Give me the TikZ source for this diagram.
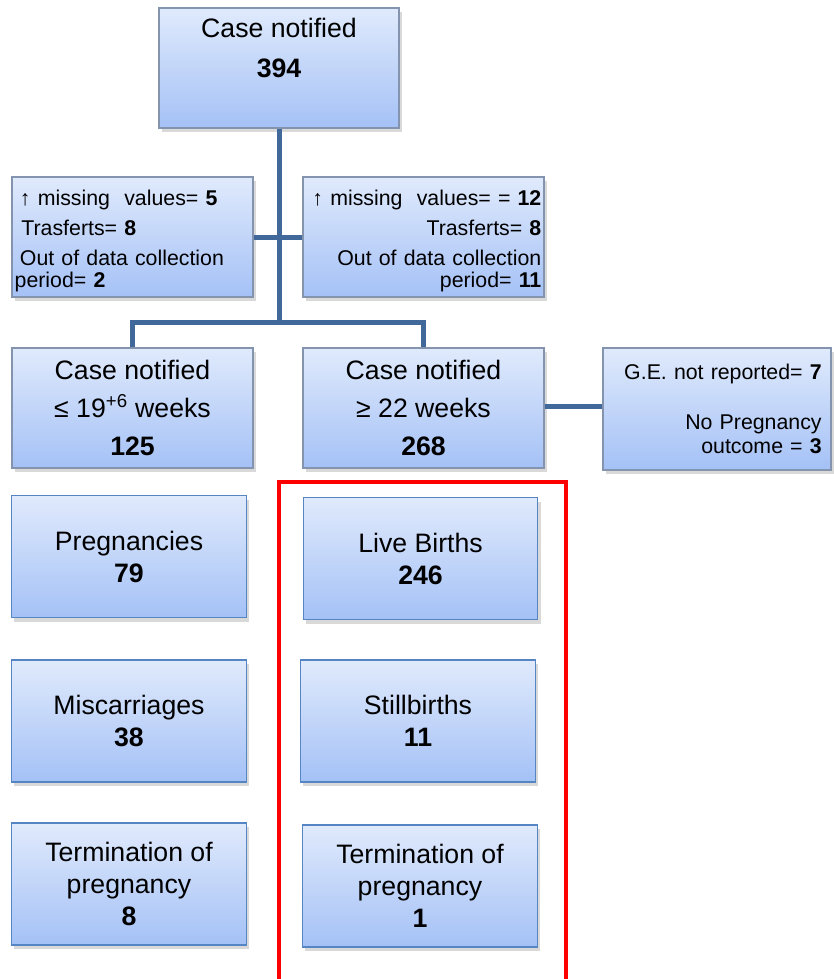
\documentclass[tikz,border=0pt]{standalone}
\usepackage{fontspec}
\setmainfont{Liberation Sans}
\usetikzlibrary{shadows}

\definecolor{boxtop}{HTML}{E0EAFC}
\definecolor{boxbot}{HTML}{A4C1F6}
\definecolor{greyedge}{HTML}{8494AE}
\definecolor{blueedge}{HTML}{5585C2}
\definecolor{linkblue}{HTML}{41689A}

\begin{document}
\begin{tikzpicture}[
  x=0.75pt, y=-0.75pt,
  box/.style={draw=greyedge, line width=0.8pt, top color=boxtop, bottom color=boxbot,
              drop shadow={shadow xshift=2pt, shadow yshift=-3pt, opacity=0.3},
              align=center, inner sep=2pt, minimum width=180.75pt, minimum height=90pt},
  bigtxt/.style={font=\fontsize{20}{24}\selectfont},
  smalltxt/.style={font=\fontsize{16}{16}\selectfont, text width=176.75pt},
  lowbox/.style={box, bigtxt, draw=blueedge, minimum width=176pt, minimum height=91.5pt},
  link/.style={draw=linkblue, line width=3.75pt}
]
\useasboundingbox (0,0) rectangle (834,979);

% top of the chart
\node[box, bigtxt, minimum width=180pt] (case) at (279,68)
  {Case notified\\[6pt] \textbf{394}\\[-1.5pt] \strut};
\node[box, smalltxt, align=left] (missl) at (132.5,237)
  {\strut\\[-11pt]
   \hspace*{4pt}↑ missing\ \ values= \textbf{5}\\[6.5pt]
   \hspace*{5pt}Trasferts= \textbf{8}\\[6.5pt]
   \hspace*{4pt}Out of data collection\\ period= \textbf{2}};
\node[box, smalltxt, align=right] (missr) at (423.5,237)
  {\strut\\[-11pt]
   ↑ missing\ \ values= = \textbf{12}\\[6.5pt]
   Trasferts= \textbf{8}\\[6.5pt]
   Out of data collection\\ period= \textbf{11}};

% split by gestational age
\node[box, bigtxt] (early) at (132.5,408)
  {Case notified\\[4.5pt] ≤ 19\textsuperscript{+6} weeks\\[4.5pt] \textbf{125}};
\node[box, bigtxt] (late) at (423.5,408)
  {Case notified\\[4.5pt] ≥ 22 weeks\\[4.5pt] \textbf{268}};
\node[box, font=\fontsize{16}{18}\selectfont, align=right, text width=157pt, inner xsep=7pt,
      minimum width=171pt, minimum height=91.5pt] (ge) at (717,409)
  {G.E. not reported= \textbf{7}\\[19.5pt] No Pregnancy\\ outcome = \textbf{3}};

% outcomes
\node[lowbox] (preg) at (129,556.5) {Pregnancies\\ \textbf{79}};
\node[lowbox] (misc) at (129,721) {Miscarriages\\ \textbf{38}};
\node[lowbox] (topl) at (129,884) {Termination of\\ pregnancy\\ \textbf{8}};
\node[lowbox] (live) at (420.5,558.5) {Live Births\\ \textbf{246}};
\node[lowbox] (still) at (418,721) {Stillbirths\\ \textbf{11}};
\node[lowbox] (topr) at (420,886) {Termination of\\ pregnancy\\ \textbf{1}};

% connectors
\coordinate (split) at (279,322);
\path[link] (case.south) -- (split);
\path[link] (missl) -- (missr);
\path[link] (early.north) |- (split) -| (late.north);
\path[link] (late.east |- 0,406) -- (ge.west |- 0,406);

% frame round the births
\draw[red, line width=3pt] (279,979) -- (279,482) -- (566,482) -- (566,979);
\end{tikzpicture}
\end{document}
